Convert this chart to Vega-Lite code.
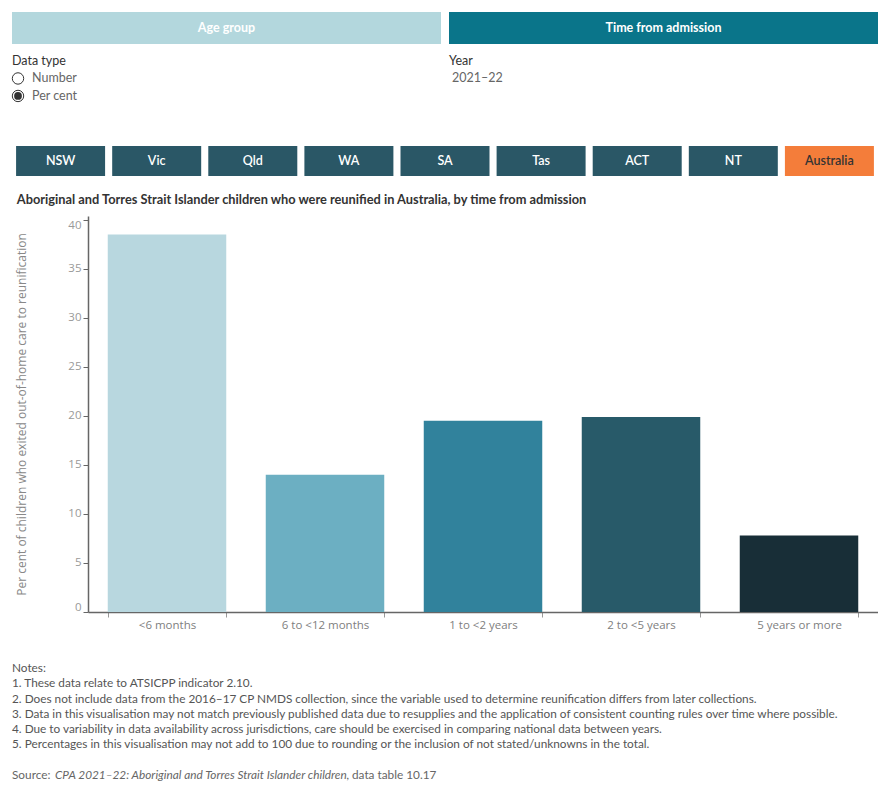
{
  "$schema": "https://vega.github.io/schema/vega-lite/v6.json",
  "padding": {"left": 10, "top": 12, "right": 0, "bottom": 0},
  "spacing": 0,
  "bounds": "flush",
  "config": {
    "font": "Lato",
    "view": {"stroke": null},
    "text": {"font": "Lato"}
  },
  "datasets": {
    "buttons": [
      {"label": "Age group", "state": "unselected"},
      {"label": "Time from admission", "state": "selected"}
    ],
    "controls": [
      {"text": "Data type", "col": 0, "line": 1, "kind": "header", "state": "none"},
      {"text": "Number", "col": 0, "line": 2, "kind": "option", "state": "unselected"},
      {"text": "Per cent", "col": 0, "line": 3, "kind": "option", "state": "selected"},
      {"text": "Year", "col": 1, "line": 1, "kind": "header", "state": "none"},
      {"text": "2021–22", "col": 1, "line": 2, "kind": "value", "state": "none"}
    ],
    "tabs": [
      {"label": "NSW", "group": "Jurisdiction", "state": "unselected"},
      {"label": "Vic", "group": "Jurisdiction", "state": "unselected"},
      {"label": "Qld", "group": "Jurisdiction", "state": "unselected"},
      {"label": "WA", "group": "Jurisdiction", "state": "unselected"},
      {"label": "SA", "group": "Jurisdiction", "state": "unselected"},
      {"label": "Tas", "group": "Jurisdiction", "state": "unselected"},
      {"label": "ACT", "group": "Jurisdiction", "state": "unselected"},
      {"label": "NT", "group": "Jurisdiction", "state": "unselected"},
      {"label": "Australia", "group": "Jurisdiction", "state": "selected"}
    ],
    "bars": [
      {"period": "<6 months", "percent": 38.5},
      {"period": "6 to <12 months", "percent": 14.0},
      {"period": "1 to <2 years", "percent": 19.5},
      {"period": "2 to <5 years", "percent": 19.9},
      {"period": "5 years or more", "percent": 7.8}
    ],
    "notes": [
      {"line": 1, "seg": "note", "text": "Notes:"},
      {"line": 2, "seg": "note", "text": "1. These data relate to ATSICPP indicator 2.10."},
      {"line": 3, "seg": "note", "text": "2. Does not include data from the 2016–17 CP NMDS collection, since the variable used to determine reunification differs from later collections."},
      {"line": 4, "seg": "note", "text": "3. Data in this visualisation may not match previously published data due to resupplies and the application of consistent counting rules over time where possible."},
      {"line": 5, "seg": "note", "text": "4. Due to variability in data availability across jurisdictions, care should be exercised in comparing national data between years."},
      {"line": 6, "seg": "note", "text": "5. Percentages in this visualisation may not add to 100 due to rounding or the inclusion of not stated/unknowns in the total."},
      {"line": 8, "seg": "source", "text": "Source:"},
      {"line": 8, "seg": "sourcetitle", "text": "CPA 2021–22: Aboriginal and Torres Strait Islander children,"},
      {"line": 8, "seg": "sourcetable", "text": "data table 10.17"}
    ]
  },
  "vconcat": [
    {
      "width": 790,
      "height": 32,
      "data": {"name": "buttons"},
      "encoding": {
        "x": {"field": "label", "type": "nominal", "sort": null, "axis": null,
              "scale": {"paddingInner": 0.0183, "paddingOuter": 0, "rangeMin": -76, "rangeMax": 790}}
      },
      "layer": [
        {
          "mark": {"type": "bar"},
          "encoding": {
            "color": {"condition": {"test": "datum.state === 'selected'", "value": "#0a758a"}, "value": "#b3d7dd"}
          }
        },
        {
          "mark": {"type": "text", "fontSize": 12.5, "fontWeight": "bold", "color": "white"},
          "encoding": {"text": {"field": "label"}}
        }
      ]
    },
    {
      "width": 790,
      "height": 102,
      "data": {"name": "controls"},
      "encoding": {
        "x": {"field": "col", "type": "quantitative", "axis": null,
              "scale": {"domain": [0, 1], "nice": false, "zero": false, "rangeMin": -76, "rangeMax": 361}},
        "y": {"field": "line", "type": "quantitative", "axis": null,
              "scale": {"domain": [0.03, 5.86], "nice": false, "zero": false, "reverse": true}}
      },
      "layer": [
        {
          "transform": [{"filter": "datum.kind === 'header'"}],
          "mark": {"type": "text", "align": "left", "fontSize": 12.5, "color": "#333333"},
          "encoding": {"text": {"field": "text"}}
        },
        {
          "transform": [{"filter": "datum.kind === 'option'"}],
          "mark": {"type": "text", "align": "left", "fontSize": 12.5, "color": "#666666", "dx": 20},
          "encoding": {"text": {"field": "text"}}
        },
        {
          "transform": [{"filter": "datum.kind === 'value'"}],
          "mark": {"type": "text", "align": "left", "fontSize": 12.5, "color": "#666666", "dx": 3},
          "encoding": {"text": {"field": "text"}}
        },
        {
          "transform": [{"filter": "datum.kind === 'option'"}],
          "mark": {"type": "point", "shape": "circle", "filled": true, "fill": "white", "stroke": "#333333", "strokeWidth": 1, "size": 130, "xOffset": 6, "opacity": 1}
        },
        {
          "transform": [{"filter": "datum.kind === 'option' && datum.state === 'selected'"}],
          "mark": {"type": "point", "shape": "circle", "filled": true, "fill": "#333333", "strokeWidth": 0, "size": 60, "xOffset": 6, "opacity": 1}
        }
      ]
    },
    {
      "width": 790,
      "height": 70,
      "data": {"name": "tabs"},
      "encoding": {
        "x": {"field": "label", "type": "nominal", "sort": null, "axis": null,
              "scale": {"paddingInner": 0.0739, "paddingOuter": 0.0425, "rangeMin": -76, "rangeMax": 790}},
        "y": {"field": "group", "type": "nominal", "axis": null,
              "scale": {"paddingInner": 0, "paddingOuter": 0.6667, "align": 0}}
      },
      "layer": [
        {
          "mark": {"type": "bar"},
          "encoding": {
            "color": {"condition": {"test": "datum.state === 'selected'", "value": "#f47d3a"}, "value": "#2a5766"}
          }
        },
        {
          "mark": {"type": "text", "fontSize": 12.5, "fontWeight": 600},
          "encoding": {
            "text": {"field": "label"},
            "color": {"condition": {"test": "datum.state === 'selected'", "value": "#333333"}, "value": "white"}
          }
        }
      ]
    },
    {
      "width": 790,
      "height": 396,
      "title": {
        "text": "Aboriginal and Torres Strait Islander children who were reunified in Australia, by time from admission",
        "anchor": "start", "frame": "bounds", "fontSize": 12.8, "fontWeight": "bold",
        "color": "#333333", "offset": 9, "dx": 1, "font": "Lato"
      },
      "data": {"name": "bars"},
      "mark": {"type": "bar"},
      "encoding": {
        "x": {
          "field": "period", "type": "nominal", "sort": null,
          "scale": {"paddingInner": 0.25, "paddingOuter": 0.125},
          "axis": {
            "title": null, "labelAngle": 0, "labelColor": "#808080", "labelFontSize": 11.5, "labelFont": "Open Sans",
            "labelPadding": 2, "tickColor": "#999999", "tickSize": 5, "tickBand": "extent",
            "domainColor": "#666666", "domainWidth": 1.5
          }
        },
        "y": {
          "field": "percent", "type": "quantitative",
          "scale": {"domain": [0, 40.4], "nice": false},
          "axis": {
            "title": "Per cent of children who exited out-of-home care to reunification",
            "titleFontSize": 12, "titleFont": "Open Sans", "titleFontWeight": "normal", "titleColor": "#888888",
            "titlePadding": 39,
            "values": [0, 5, 10, 15, 20, 25, 30, 35, 40],
            "grid": false, "labelColor": "#999999", "labelFontSize": 11.5, "labelFont": "Open Sans", "labelPadding": 2,
            "labelFlush": 5, "tickColor": "#666666", "tickSize": 5,
            "domainColor": "#666666", "domainWidth": 1.5
          }
        },
        "color": {
          "field": "period", "type": "nominal", "sort": null, "legend": null,
          "scale": {
            "domain": ["<6 months", "6 to <12 months", "1 to <2 years", "2 to <5 years", "5 years or more"],
            "range": ["#b8d7df", "#6cafc2", "#31829c", "#285a69", "#182e37"]
          }
        }
      }
    },
    {
      "width": 790,
      "height": 180,
      "data": {"name": "notes"},
      "encoding": {
        "x": {"datum": 0, "type": "quantitative", "axis": null,
              "scale": {"domain": [0, 1], "nice": false, "zero": false, "rangeMin": -76, "rangeMax": 790}},
        "y": {"field": "line", "type": "quantitative", "axis": null,
              "scale": {"domain": [-2.66, 9.105], "nice": false, "zero": false, "reverse": true}}
      },
      "layer": [
        {
          "transform": [{"filter": "datum.seg === 'note'"}],
          "mark": {"type": "text", "align": "left", "fontSize": 11.8, "color": "#555555"},
          "encoding": {"text": {"field": "text"}}
        },
        {
          "transform": [{"filter": "datum.seg === 'source'"}],
          "mark": {"type": "text", "align": "left", "fontSize": 11.8, "color": "#666666"},
          "encoding": {"text": {"field": "text"}}
        },
        {
          "transform": [{"filter": "datum.seg === 'sourcetitle'"}],
          "mark": {"type": "text", "align": "left", "fontSize": 11.8, "color": "#666666", "fontStyle": "italic", "dx": 43},
          "encoding": {"text": {"field": "text"}}
        },
        {
          "transform": [{"filter": "datum.seg === 'sourcetable'"}],
          "mark": {"type": "text", "align": "left", "fontSize": 11.8, "color": "#666666", "dx": 340},
          "encoding": {"text": {"field": "text"}}
        }
      ]
    }
  ]
}
